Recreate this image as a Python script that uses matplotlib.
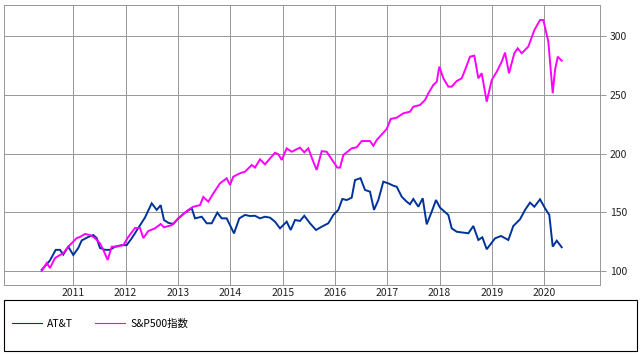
import matplotlib
matplotlib.use("Agg")
import matplotlib.pyplot as plt
from matplotlib.lines import Line2D
from matplotlib.patches import Rectangle

plt.rcParams['font.family'] = ['Noto Sans CJK JP', 'DejaVu Sans']

# Dates as decimal years, values indexed to 100
att_t = [2010.396, 2010.555, 2010.664, 2010.746, 2010.809, 2010.904, 2011.000, 2011.096,
         2011.161, 2011.287, 2011.382, 2011.447, 2011.510, 2011.606, 2011.701, 2011.797,
         2011.925, 2012.020, 2012.116, 2012.242, 2012.370, 2012.498, 2012.594, 2012.670,
         2012.733, 2012.815, 2012.911, 2013.007, 2013.135, 2013.263, 2013.326, 2013.454,
         2013.549, 2013.645, 2013.752, 2013.836, 2013.931, 2013.995, 2014.071, 2014.172,
         2014.281, 2014.377, 2014.472, 2014.568, 2014.663, 2014.759, 2014.854, 2014.950,
         2015.078, 2015.154, 2015.237, 2015.332, 2015.414, 2015.523, 2015.638, 2015.747,
         2015.873, 2015.969, 2016.064, 2016.141, 2016.225, 2016.320, 2016.383, 2016.488,
         2016.574, 2016.670, 2016.746, 2016.829, 2016.924, 2017.020, 2017.115, 2017.180,
         2017.276, 2017.371, 2017.434, 2017.497, 2017.593, 2017.677, 2017.753, 2017.849,
         2017.931, 2018.008, 2018.166, 2018.231, 2018.327, 2018.549, 2018.644, 2018.740,
         2018.816, 2018.900, 2019.059, 2019.173, 2019.313, 2019.408, 2019.536, 2019.632,
         2019.727, 2019.810, 2019.919, 2020.014, 2020.096, 2020.161, 2020.238, 2020.333]
att_v = [101, 109, 118, 118, 114, 120.7, 113.6, 119.6,
         126, 129, 130.6, 128, 119.6, 118, 118, 120.7,
         122, 122, 127.8, 136.6, 145.5, 157.6, 152, 156,
         143.4, 141, 140, 144.8, 149.7, 153.4, 144.8, 146.2,
         140.6, 140.6, 149.7, 144.8, 144.8, 139, 132, 144.8,
         147.7, 146.8, 147, 144.8, 146.2, 145.4, 142, 136.3,
         142, 134.9, 143.4, 142.6, 147, 140.6, 134.9, 137.7,
         140.6, 147.7, 152, 161.3, 160.4, 162.4, 177.4, 179,
         169, 167.5, 152, 160.4, 176, 174.6, 172.6, 171.7,
         163.2, 159, 156.8, 161.3, 154.7, 161.9, 139.7, 150.5,
         160.4, 153.9, 147.7, 136.3, 133.4, 132.1, 138.3, 126.4,
         128.7, 118.5, 127.8, 129.8, 126.4, 138.3, 144, 152,
         158.2, 154.7, 161, 153.4, 147.7, 120.7, 125.8, 120.2]

sp_t = [2010.396, 2010.492, 2010.555, 2010.650, 2010.746, 2010.809, 2010.904, 2010.969,
        2011.065, 2011.128, 2011.224, 2011.319, 2011.415, 2011.510, 2011.573, 2011.657,
        2011.734, 2011.829, 2011.956, 2012.051, 2012.179, 2012.275, 2012.338, 2012.433,
        2012.561, 2012.670, 2012.733, 2012.880, 2013.007, 2013.198, 2013.293, 2013.421,
        2013.484, 2013.580, 2013.675, 2013.803, 2013.931, 2013.995, 2014.058, 2014.186,
        2014.281, 2014.409, 2014.472, 2014.568, 2014.663, 2014.854, 2014.918, 2014.983,
        2015.078, 2015.174, 2015.332, 2015.414, 2015.491, 2015.586, 2015.651, 2015.747,
        2015.842, 2015.969, 2016.045, 2016.097, 2016.160, 2016.320, 2016.416, 2016.511,
        2016.670, 2016.733, 2016.798, 2016.989, 2017.066, 2017.180, 2017.306, 2017.434,
        2017.497, 2017.626, 2017.721, 2017.784, 2017.880, 2017.945, 2017.994, 2018.071,
        2018.166, 2018.231, 2018.327, 2018.422, 2018.485, 2018.581, 2018.663, 2018.740,
        2018.804, 2018.900, 2018.996, 2019.091, 2019.187, 2019.250, 2019.326, 2019.427,
        2019.492, 2019.569, 2019.695, 2019.810, 2019.919, 2019.982, 2020.077, 2020.161,
        2020.205, 2020.257, 2020.333]
sp_v = [100, 106.8, 102.5, 111, 113.6, 115, 120.7, 123.6,
        128, 129, 131.5, 130.6, 128, 123.6, 118, 109.4,
        120.7, 120.7, 122, 129, 136.6, 136.6, 128, 134,
        136.3, 140, 137.2, 139, 144.8, 152, 154.7, 156,
        163, 159, 166, 174.6, 178.9, 173.2, 180.3, 183.2,
        184.5, 190.2, 188, 195, 190.8, 200.7, 199.3, 194.5,
        204.4, 201.5, 205, 201, 204.4, 193, 186, 202,
        201.5, 193, 188, 188, 198.7, 204.4, 205.3, 210.6,
        210.6, 206.6, 211.5, 220.9, 229.4, 230.5, 234.2, 235.6,
        239.8, 241.3, 245.5, 251.2, 258.3, 261.1, 273.9, 264,
        256.9, 256.9, 261.7, 264, 271, 282.4, 283.3, 264,
        268.3, 244.1, 262.6, 269.6, 278.2, 285.9, 268.3, 285.3,
        289.5, 285.3, 291, 305, 313.6, 313.6, 295.2, 251.3,
        271, 282.4, 279]

years = [2011, 2012, 2013, 2014, 2015, 2016, 2017, 2018, 2019, 2020]
year_labels = [str(y) for y in years]
y_ticks = [100, 150, 200, 250, 300]
series_names = ['AT&T', 'S&P500指数']
colors = ['#003399', '#FF00FF']
grid_c = '#999999'

W, H = 641, 355
fig = plt.figure(figsize=(W / 100, H / 100), dpi=100)
ax = fig.add_axes([4 / W, 1 - 285 / H, (599.5 - 4) / W, 280 / H])

ax.plot(att_t, att_v, color=colors[0], lw=1.4, solid_joinstyle='miter', zorder=3)
ax.plot(sp_t, sp_v, color=colors[1], lw=1.4, solid_joinstyle='miter', zorder=3)

ax.set_xlim(2009.676, 2021.055)
ax.set_ylim(88.08, 326.4)
ax.set_xticks(years)
ax.set_xticklabels(year_labels)
ax.set_yticks(y_ticks)
ax.yaxis.tick_right()
ax.tick_params(axis='x', length=0, pad=2.5, labelsize=7.5, colors='#222222')
ax.tick_params(axis='y', length=4.3, width=0.72, color=grid_c, pad=3.2,
               labelsize=7.5, labelcolor='#222222')
ax.grid(True, color=grid_c, lw=0.72, zorder=0)
ax.set_axisbelow(True)
for s in ax.spines.values():
    s.set_color(grid_c)
    s.set_linewidth(0.72)

# legend box
fig.patches.append(Rectangle((4.3 / W, 1 - 351 / H), (636.7 - 4.3) / W, 51 / H,
                             transform=fig.transFigure, fill=False,
                             edgecolor='black', lw=0.8))
handles = [Line2D([], [], color=c, lw=0.8) for c in colors]
fig.legend(handles, series_names, loc='center left',
           bbox_to_anchor=(11.5 / W, 1 - 323.5 / H), ncol=2, frameon=False,
           fontsize=7.5, handlelength=2.9, handletextpad=0.5,
           columnspacing=2.1, borderpad=0, borderaxespad=0)

fig.savefig('out.png', dpi=100)
